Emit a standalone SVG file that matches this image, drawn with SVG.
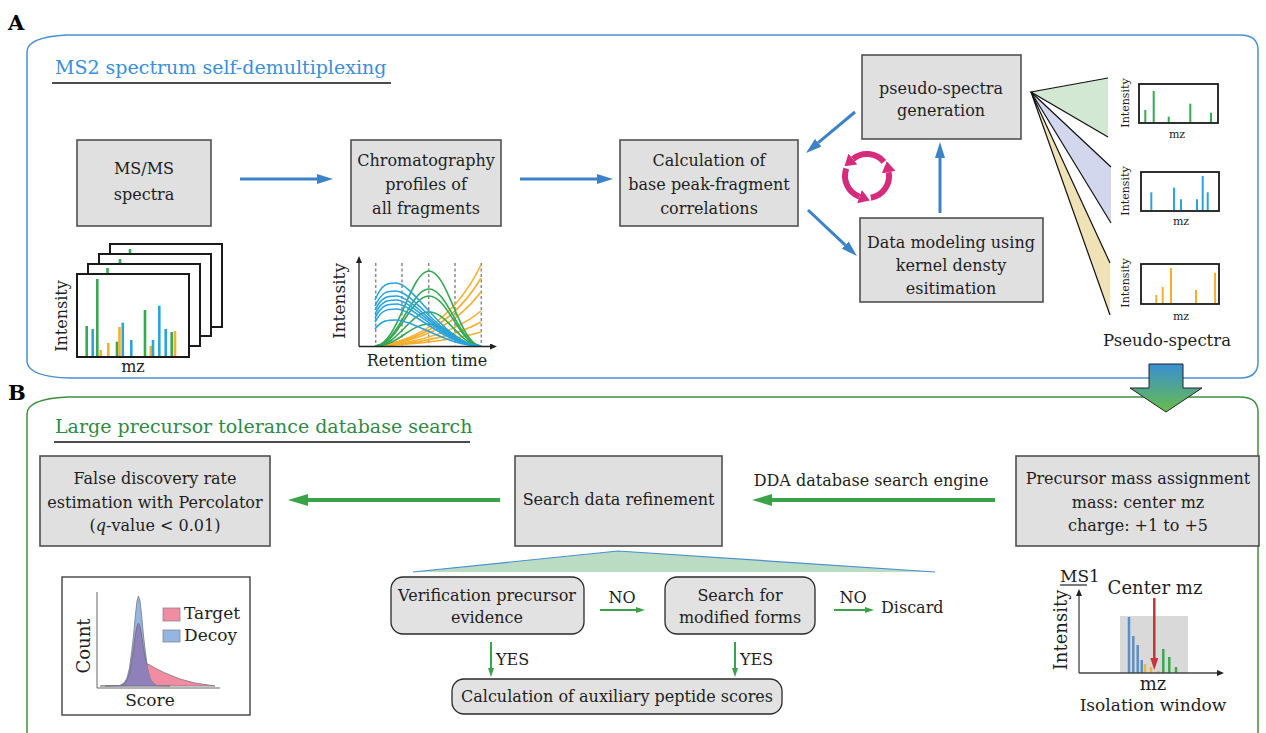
<svg xmlns="http://www.w3.org/2000/svg" width="1266" height="733" viewBox="0 0 1266 733">
<defs>
<style>
text{font-family:"DejaVu Serif","Liberation Serif",serif;fill:#1e1e1e;font-size:16px}
.c{text-anchor:middle}
.lbl{font-weight:bold;font-size:21px;fill:#000}
.box{fill:#e0e0e0;stroke:#505050;stroke-width:1.6}
.rbox{fill:#e2e2e2;stroke:#2a2a2a;stroke-width:1.3}
.fr{fill:#fff;stroke:#1a1a1a;stroke-width:2}
.mfr{fill:#fff;stroke:#1a1a1a;stroke-width:1.8}
.ab{stroke:#3c82c6;stroke-width:3;fill:none}
.ag{stroke:#3ba347;stroke-width:4;fill:none}
.an{stroke:#3ba347;stroke-width:2;fill:none}
.cyc{stroke:#d62a7c;stroke-width:6;fill:none}
.bB{stroke:#2aa3df;stroke-width:2.6}
.bG{stroke:#35aa52;stroke-width:2.6}
.bO{stroke:#f6b030;stroke-width:2.6}
.mB{stroke:#2aa3df;stroke-width:2}
.mG{stroke:#35aa52;stroke-width:2}
.mO{stroke:#f6b030;stroke-width:2}
.cB{stroke:#29a3dd;stroke-width:1.6;fill:none}
.cG{stroke:#33a853;stroke-width:1.6;fill:none}
.cO{stroke:#f5ae2c;stroke-width:1.6;fill:none}
.dash{stroke:#8a8a8a;stroke-width:1.5;stroke-dasharray:3 2.5}
.ax{stroke:#222;stroke-width:1.3;fill:none}
.wedge{stroke:#111;stroke-width:1.2;fill:none}
.s11{font-size:11px}
.s17{font-size:17px}
.s18{font-size:18px}
.s19{font-size:19px}
</style>
<marker id="mb" markerUnits="userSpaceOnUse" viewBox="0 0 16 10" refX="0" refY="5" markerWidth="16" markerHeight="10" orient="auto"><path d="M0,0 L16,5 L0,10 Z" fill="#3c82c6"/></marker>
<marker id="mg" markerUnits="userSpaceOnUse" viewBox="0 0 20 12" refX="0" refY="6" markerWidth="20" markerHeight="12" orient="auto"><path d="M0,0 L20,6 L0,12 Z" fill="#3ba347"/></marker>
<marker id="mn" markerUnits="userSpaceOnUse" viewBox="0 0 9 6" refX="0" refY="3" markerWidth="9" markerHeight="6" orient="auto"><path d="M0,0 L9,3 L0,6 Z" fill="#3ba347"/></marker>
<marker id="mc" markerUnits="userSpaceOnUse" viewBox="0 0 11 14" refX="0" refY="7" markerWidth="11" markerHeight="14" orient="auto"><path d="M0,0 L11,7 L0,14 Z" fill="#d62a7c"/></marker>
<marker id="mr" markerUnits="userSpaceOnUse" viewBox="0 0 12 8" refX="0" refY="4" markerWidth="12" markerHeight="8" orient="auto"><path d="M0,0 L12,4 L0,8 Z" fill="#c8323c"/></marker>
<marker id="mk" markerUnits="userSpaceOnUse" viewBox="0 0 7 6" refX="0" refY="3" markerWidth="7" markerHeight="6" orient="auto"><path d="M0,0 L7,3 L0,6 Z" fill="#222"/></marker>
<linearGradient id="gArrow" x1="0" y1="0" x2="0" y2="1"><stop offset="0" stop-color="#3a8fd3"/><stop offset="1" stop-color="#68bd4a"/></linearGradient>
<path id="decoyShape" d="M105,686 L120,685.5 L124,683 L127,678 L129.5,668 L131.5,653 L133.5,636 L135.5,614 L137,601 L138.5,596 L140,601 L141.5,614 L143.5,636 L145.5,653 L147.5,668 L150,678 L153,683 L157,685.5 L170,686 Z"/>
<path id="targetShape" d="M100,686 L120,685.5 L124,684 L127,680 L129.5,673 L131.5,662 L133.5,649 L135.5,634 L137,626 L138.5,623 L140,626 L141.5,634 L143.5,648 L145.5,659 L147,664 L150,665 L155,668 L165,673 L180,679 L195,683 L215,686 Z"/>
<clipPath id="clipDecoy"><use href="#decoyShape"/></clipPath>
</defs>
<rect width="1266" height="733" fill="#fff"/>

<!-- Panel frames -->
<g id="panelA">
<path d="M27,362 Q29,377 70,378 L1240,378 Q1258,378 1258,362 L1258,50 Q1258,35 1240,35 L67,35 Q27,37 27,52 Z" fill="none" stroke="#4a90d0" stroke-width="1.5"/>
<text class="lbl" x="8" y="30">A</text>
<text x="55" y="74" class="s19" style="fill:#3a8fd6">MS2 spectrum self-demultiplexing</text>
<line x1="52" y1="83" x2="391" y2="83" stroke="#111" stroke-width="1.5"/>
</g>
<g id="panelB">
<path d="M27,740 L27,414 Q27,399 67,397 L1240,397 Q1258,397 1258,412 L1258,740" fill="none" stroke="#3f8f3f" stroke-width="1.5"/>
<text class="lbl" x="8" y="400">B</text>
<text x="55" y="433" class="s19" style="fill:#2f8a45">Large precursor tolerance database search</text>
<line x1="54" y1="442" x2="470" y2="442" stroke="#111" stroke-width="1.5"/>
</g>

<!-- Panel A nodes -->
<g id="msms">
<rect class="box" x="77" y="140" width="134" height="86"/>
<text class="c" x="144" y="174">MS/MS</text>
<text class="c" x="144" y="200">spectra</text>
</g>
<g id="chrom">
<rect class="box" x="351" y="140" width="150" height="86"/>
<text class="c" x="426" y="166">Chromatography</text>
<text class="c" x="426" y="190">profiles of</text>
<text class="c" x="426" y="214">all fragments</text>
</g>
<g id="calc">
<rect class="box" x="620" y="140" width="178" height="86"/>
<text class="c" x="709" y="166">Calculation of</text>
<text class="c" x="709" y="190">base peak-fragment</text>
<text class="c" x="709" y="214">correlations</text>
</g>
<g id="pseudogen">
<rect class="box" x="862" y="55" width="159" height="84"/>
<text class="c" x="941" y="94">pseudo-spectra</text>
<text class="c" x="941" y="116">generation</text>
</g>
<g id="kde">
<rect class="box" x="860" y="218" width="183" height="84"/>
<text class="c" x="951" y="248">Data modeling using</text>
<text class="c" x="951" y="271">kernel densty</text>
<text class="c" x="951" y="294">esitimation</text>
</g>

<!-- Stacked MS/MS spectra -->
<g id="spectraStack">
<rect class="fr" x="110" y="244" width="112" height="83"/>
<line class="bG" x1="130" y1="249" x2="130" y2="254"/>
<rect class="fr" x="99" y="254" width="112" height="82"/>
<line class="bG" x1="120" y1="259" x2="120" y2="264"/>
<rect class="fr" x="88" y="264" width="112" height="82"/>
<line class="bG" x1="107.5" y1="268" x2="107.5" y2="274"/>
<rect class="fr" x="77" y="274" width="112" height="83"/>
<line class="bG" x1="86.7" y1="326" x2="86.7" y2="356"/>
<line class="bB" x1="92.7" y1="329" x2="92.7" y2="356"/>
<line class="bG" x1="97.3" y1="279" x2="97.3" y2="356"/>
<line class="bO" x1="100.7" y1="350" x2="100.7" y2="356"/>
<line class="bO" x1="108.3" y1="343" x2="108.3" y2="356"/>
<line class="bG" x1="117" y1="341.7" x2="117" y2="356"/>
<line class="bO" x1="119.5" y1="327" x2="119.5" y2="356"/>
<line class="bB" x1="122.8" y1="322.7" x2="122.8" y2="356"/>
<line class="bB" x1="131.3" y1="340" x2="131.3" y2="356"/>
<line class="bG" x1="145" y1="310" x2="145" y2="356"/>
<line class="bO" x1="150.8" y1="346" x2="150.8" y2="356"/>
<line class="bB" x1="153" y1="340" x2="153" y2="356"/>
<line class="bB" x1="159.3" y1="305.7" x2="159.3" y2="356"/>
<line class="bB" x1="165.7" y1="329" x2="165.7" y2="356"/>
<line class="bG" x1="171.7" y1="332" x2="171.7" y2="356"/>
<line class="bO" x1="175" y1="331" x2="175" y2="356"/>
<text class="c" transform="translate(67,316) rotate(-90)">Intensity</text>
<text class="c" x="133" y="372">mz</text>
</g>

<!-- Chromatography plot -->
<g id="chromPlot">
<line class="dash" x1="375.7" y1="263" x2="375.7" y2="346"/>
<line class="dash" x1="402" y1="263" x2="402" y2="346"/>
<line class="dash" x1="428.7" y1="263" x2="428.7" y2="346"/>
<line class="dash" x1="455" y1="263" x2="455" y2="346"/>
<line class="dash" x1="481.3" y1="263" x2="481.3" y2="346"/>
<path class="cO" d="M375,346 Q445,338 481,265"/>
<path class="cO" d="M375,346 Q445,339 481,278"/>
<path class="cO" d="M375,346 Q445,340 481,292"/>
<path class="cO" d="M375,346 Q445,341 481,311"/>
<path class="cO" d="M375,346 Q445,342 481,322"/>
<path class="cO" d="M375,346 Q445,343 481,332"/>
<path class="cG" d="M375,346 C398,346 410,271 429,271 C448,271 460,346 481,346"/>
<path class="cG" d="M375,346 C398,346 410,289 429,289 C448,289 460,346 481,346"/>
<path class="cG" d="M375,346 C398,346 410,296 429,296 C448,296 460,346 481,346"/>
<path class="cG" d="M375,346 C398,346 410,312 429,312 C448,312 460,346 481,346"/>
<path class="cG" d="M375,346 C398,346 410,324 429,324 C448,324 460,346 481,346"/>
<path class="cB" d="M375,300 C382,283 388,283 396,283 C414,283 446,346 481,346"/>
<path class="cB" d="M375,306 C382,291 388,291 396,291 C414,291 446,346 481,346"/>
<path class="cB" d="M375,310 C382,296 388,296 396,296 C414,296 446,346 481,346"/>
<path class="cB" d="M375,314 C382,300 388,300 396,300 C414,300 446,346 481,346"/>
<path class="cB" d="M375,318 C382,304 388,304 396,304 C414,304 446,346 481,346"/>
<path class="cB" d="M375,322 C382,309 388,309 396,309 C414,309 446,346 481,346"/>
<path class="cB" d="M375,329 C382,320 388,320 396,320 C414,320 446,346 481,346"/>
<line class="ax" x1="359" y1="346.5" x2="359" y2="263" marker-end="url(#mk)"/>
<line class="ax" x1="359" y1="346.5" x2="490" y2="346.5" marker-end="url(#mk)"/>
<text class="c s17" transform="translate(345,301) rotate(-90)">Intensity</text>
<text class="c" x="427" y="366">Retention time</text>
</g>

<!-- Pseudo spectra -->
<g id="pseudoSpectra">
<polygon points="1031,92 1108,78 1108,137" fill="#d3e8d3"/>
<polyline class="wedge" points="1108,78 1031,92 1108,137"/>
<polygon points="1031,92 1111,167 1111,223" fill="#d3d7ee"/>
<polyline class="wedge" points="1111,167 1031,92 1111,223"/>
<polygon points="1031,92 1110,263 1110,315" fill="#efe2b6"/>
<polyline class="wedge" points="1110,263 1031,92 1110,315"/>
<rect class="mfr" x="1139" y="84" width="79" height="39"/>
<line class="mG" x1="1145.3" y1="110" x2="1145.3" y2="122"/>
<line class="mG" x1="1153.7" y1="91" x2="1153.7" y2="122"/>
<line class="mG" x1="1168.7" y1="116.7" x2="1168.7" y2="122"/>
<line class="mG" x1="1190.3" y1="103.7" x2="1190.3" y2="122"/>
<line class="mG" x1="1211" y1="112.7" x2="1211" y2="122"/>
<text class="c s11" transform="translate(1129,103) rotate(-90)">Intensity</text>
<text class="c s11" x="1177" y="138">mz</text>
<rect class="mfr" x="1141" y="172" width="78" height="39"/>
<line class="mB" x1="1151.3" y1="192.3" x2="1151.3" y2="210"/>
<line class="mB" x1="1174" y1="187.7" x2="1174" y2="210"/>
<line class="mB" x1="1181" y1="199.3" x2="1181" y2="210"/>
<line class="mB" x1="1197" y1="199.3" x2="1197" y2="210"/>
<line class="mB" x1="1202.7" y1="176" x2="1202.7" y2="210"/>
<line class="mB" x1="1207.7" y1="192.3" x2="1207.7" y2="210"/>
<text class="c s11" transform="translate(1129,191) rotate(-90)">Intensity</text>
<text class="c s11" x="1181" y="225">mz</text>
<rect class="mfr" x="1141" y="264" width="78" height="40"/>
<line class="mO" x1="1156.3" y1="295" x2="1156.3" y2="303"/>
<line class="mO" x1="1162.7" y1="286.7" x2="1162.7" y2="303"/>
<line class="mO" x1="1171" y1="268" x2="1171" y2="303"/>
<line class="mO" x1="1196" y1="290" x2="1196" y2="303"/>
<line class="mO" x1="1215" y1="272.7" x2="1215" y2="303"/>
<text class="c s11" transform="translate(1129,283) rotate(-90)">Intensity</text>
<text class="c s11" x="1181" y="320">mz</text>
<text class="c" x="1167" y="346" style="font-size:16.5px">Pseudo-spectra</text>
</g>

<!-- Connectors -->
<g id="connectors">
<line class="ab" x1="240" y1="179" x2="317" y2="179" marker-end="url(#mb)"/>
<line class="ab" x1="520" y1="179" x2="597" y2="179" marker-end="url(#mb)"/>
<line class="ab" x1="855" y1="112" x2="818.3" y2="142.7" marker-end="url(#mb)"/>
<line class="ab" x1="808" y1="210" x2="845.3" y2="245.1" marker-end="url(#mb)"/>
<line class="ab" x1="940" y1="213" x2="940" y2="158" marker-end="url(#mb)"/>
<path class="cyc" d="M883.9,161.9 A22,22 0 0 0 852.9,159.1" marker-end="url(#mc)"/>
<path class="cyc" d="M846.3,168.5 A22,22 0 0 0 859.5,196.7" marker-end="url(#mc)"/>
<path class="cyc" d="M870.8,197.7 A22,22 0 0 0 888.7,172.2" marker-end="url(#mc)"/>
<line class="ag" x1="995" y1="500" x2="772" y2="500" marker-end="url(#mg)"/>
<line class="ag" x1="500" y1="500" x2="308" y2="500" marker-end="url(#mg)"/>
<line class="an" x1="600" y1="610" x2="636" y2="610" marker-end="url(#mn)"/>
<line class="an" x1="834" y1="610" x2="865" y2="610" marker-end="url(#mn)"/>
<line class="an" x1="491" y1="642" x2="491" y2="668" marker-end="url(#mn)"/>
<line class="an" x1="735" y1="642" x2="735" y2="668" marker-end="url(#mn)"/>
<polygon points="1149,364 1183,364 1183,388 1202,388 1166,412 1130,388 1149,388" fill="url(#gArrow)" stroke="#222" stroke-width="1"/>
</g>

<!-- Panel B nodes -->
<g id="fdr">
<rect class="box" x="40" y="456" width="230" height="90"/>
<text class="c" x="155" y="484">False discovery rate</text>
<text class="c" x="155" y="508">estimation with Percolator</text>
<text class="c" x="155" y="531">(<tspan font-style="italic">q</tspan>-value &lt; 0.01)</text>
</g>
<g id="refine">
<polygon points="618,551 413,572 935,572" fill="#b9dcc2"/>
<polyline points="413,572 618,551 935,572" fill="none" stroke="#4a8fd0" stroke-width="1.2"/>
<rect class="box" x="515" y="456" width="207" height="90"/>
<text class="c" x="618.5" y="505">Search data refinement</text>
</g>
<g id="precursor">
<rect class="box" x="1016" y="456" width="243" height="90"/>
<text class="c" x="1138" y="484">Precursor mass assignment</text>
<text class="c" x="1138" y="508">mass: center mz</text>
<text class="c" x="1138" y="531">charge: +1 to +5</text>
</g>
<g id="ddaLabel">
<text class="c" x="871" y="486">DDA database search engine</text>
</g>
<g id="verify">
<rect class="rbox" x="391" y="577" width="193" height="57" rx="12"/>
<text class="c" x="487" y="601">Verification precursor</text>
<text class="c" x="487" y="623">evidence</text>
</g>
<g id="modified">
<rect class="rbox" x="665" y="577" width="150" height="57" rx="12"/>
<text class="c" x="740" y="601">Search for</text>
<text class="c" x="740" y="623">modified forms</text>
</g>
<g id="auxiliary">
<rect class="rbox" x="452" y="679" width="330" height="35" rx="12"/>
<text class="c" x="617" y="702">Calculation of auxiliary peptide scores</text>
</g>
<g id="discard">
<text x="881" y="613">Discard</text>
</g>
<g id="branchLabels">
<text class="c" x="622" y="603">NO</text>
<text class="c" x="853" y="603">NO</text>
<text x="496" y="665">YES</text>
<text x="740" y="665">YES</text>
</g>

<!-- Score histogram -->
<g id="histogram">
<rect x="62" y="577" width="188" height="138" fill="#fff" stroke="#333" stroke-width="1.3"/>
<line x1="97" y1="592" x2="97" y2="688" stroke="#666" stroke-width="1"/>
<line x1="97" y1="688" x2="220" y2="688" stroke="#666" stroke-width="1"/>
<use href="#targetShape" fill="#f28ca3" stroke="#777" stroke-width="0.8" stroke-linejoin="round"/>
<use href="#decoyShape" fill="#94b6e0" stroke="#777" stroke-width="0.8" stroke-linejoin="round"/>
<use href="#targetShape" fill="#8e80b8" stroke="#6a6a8a" stroke-width="0.8" stroke-linejoin="round" clip-path="url(#clipDecoy)"/>
<rect x="163" y="608" width="17" height="13" fill="#f28ca3" stroke="#888" stroke-width="0.8"/>
<text class="s17" x="184" y="619">Target</text>
<rect x="163" y="630" width="17" height="12" fill="#94b6e0" stroke="#888" stroke-width="0.8"/>
<text class="s17" x="184" y="641">Decoy</text>
<text class="c s18" transform="translate(90,646) rotate(-90)">Count</text>
<text class="c s17" x="150" y="706">Score</text>
</g>

<!-- MS1 isolation window -->
<g id="ms1">
<rect x="1120" y="616" width="68" height="57" fill="#d9d9d9"/>
<line x1="1129" y1="617" x2="1129" y2="673" stroke="#5a8fc6" stroke-width="2.5"/>
<line x1="1133.3" y1="636" x2="1133.3" y2="673" stroke="#5a8fc6" stroke-width="2.5"/>
<line x1="1137.7" y1="645" x2="1137.7" y2="673" stroke="#5a8fc6" stroke-width="2.5"/>
<line x1="1141.7" y1="660" x2="1141.7" y2="673" stroke="#5a8fc6" stroke-width="2.5"/>
<line x1="1145" y1="664" x2="1145" y2="673" stroke="#f4b43c" stroke-width="2.5"/>
<line x1="1151" y1="667" x2="1151" y2="673" stroke="#f4b43c" stroke-width="2.5"/>
<line x1="1158.3" y1="671" x2="1158.3" y2="673" stroke="#f4b43c" stroke-width="2.5"/>
<line x1="1163.3" y1="649" x2="1163.3" y2="673" stroke="#3caa4c" stroke-width="2.5"/>
<line x1="1169.3" y1="657" x2="1169.3" y2="673" stroke="#3caa4c" stroke-width="2.5"/>
<line x1="1176" y1="667" x2="1176" y2="673" stroke="#3caa4c" stroke-width="2.5"/>
<line x1="1079" y1="673" x2="1079" y2="596" stroke="#444" stroke-width="1.3" marker-end="url(#mk)"/>
<line x1="1079" y1="673" x2="1217" y2="673" stroke="#444" stroke-width="1.3" marker-end="url(#mk)"/>
<line x1="1154.3" y1="598" x2="1154.3" y2="658" stroke="#c8323c" stroke-width="2.5" marker-end="url(#mr)"/>
<text class="s17" x="1060" y="582">MS1</text>
<line x1="1060" y1="585" x2="1087" y2="585" stroke="#222" stroke-width="1.2"/>
<text class="c s18" x="1155" y="594">Center mz</text>
<text class="c s18" transform="translate(1067,630) rotate(-90)">Intensity</text>
<text class="c s18" x="1153" y="690">mz</text>
<text class="c s17" x="1153" y="711">Isolation window</text>
</g>
</svg>
